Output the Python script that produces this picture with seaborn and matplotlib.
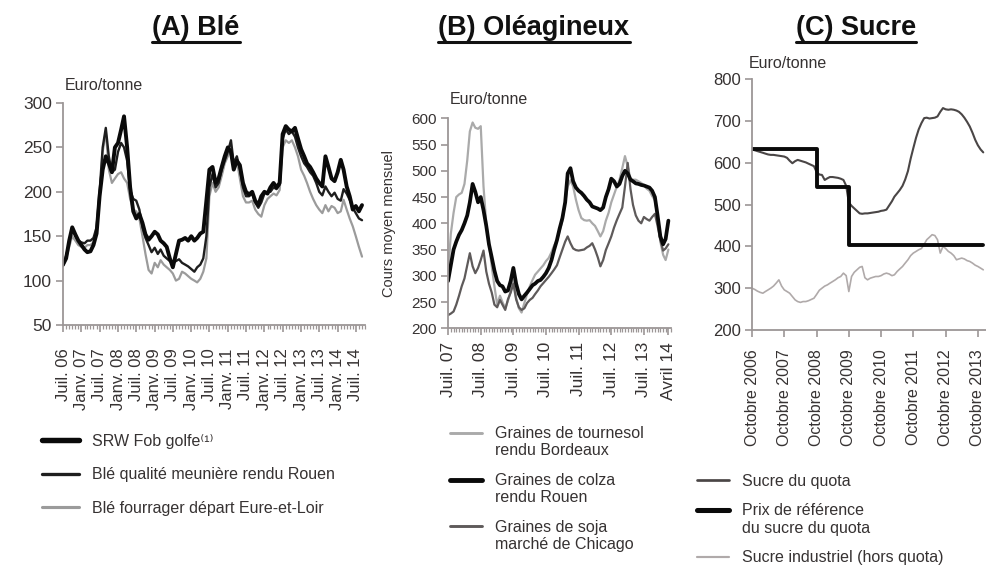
import pandas as pd
import seaborn as sns
import matplotlib.pyplot as plt
import matplotlib.dates as mdates
from matplotlib.ticker import FixedLocator, FixedFormatter
from matplotlib.lines import Line2D
from matplotlib.legend_handler import HandlerLine2D

# ---- (A) Blé : monthly prices, Jul 2006 -> Sep 2014 (euro/tonne)
ble_start = "2006-07-01"
srw_fob = [118, 125, 145, 160, 152, 145, 140, 135, 132, 133, 140, 153,
           195, 225, 240, 232, 222, 250, 255, 270, 285, 250, 205, 178,
           170, 175, 165, 152, 146, 150, 155, 152, 145, 142, 138, 125,
           115, 130, 145, 146, 148, 145, 150, 145, 148, 153, 155, 190,
           225, 228, 210, 215, 228, 240, 250, 245, 225, 235, 230, 210,
           200, 197, 200, 190, 185, 195, 200, 198, 205, 210, 205, 210,
           265, 274, 270, 268, 272, 260, 248, 240, 232, 228, 222, 215,
           210, 206, 240, 228, 215, 212, 222, 236, 225, 206, 195, 180,
           184, 178, 185]
ble_meuniere = [117, 128, 142, 158, 150, 145, 143, 142, 145, 145, 148, 160,
                200, 250, 272, 240, 222, 225, 245, 255, 250, 235, 202, 192,
                190, 180, 160, 148, 140, 132, 137, 130, 135, 128, 125, 122,
                120, 122, 124, 120, 118, 116, 113, 110, 115, 118, 125, 150,
                205, 220, 205, 210, 225, 235, 245, 258, 232, 240, 225, 205,
                195, 195, 198, 188, 182, 188, 198, 200, 200, 205, 203, 208,
                260, 270, 265, 268, 262, 250, 240, 232, 228, 222, 218, 210,
                200, 196, 206, 200, 195, 199, 192, 190, 203, 198, 191, 182,
                176, 170, 168]
ble_fourrager = [116, 125, 138, 150, 145, 140, 138, 137, 140, 140, 143, 155,
                 195, 245, 268, 225, 210, 215, 220, 222, 215, 210, 192, 180,
                 178, 170, 150, 130, 112, 108, 120, 115, 123, 118, 115, 112,
                 108, 100, 102, 110, 108, 105, 102, 100, 98, 102, 110, 125,
                 195, 210, 200, 205, 218, 232, 240, 248, 225, 235, 215, 195,
                 188, 188, 190, 180, 175, 172, 185, 192, 195, 198, 196, 202,
                 250, 258, 255, 258, 250, 240, 225, 218, 210, 200, 192, 185,
                 180, 176, 185, 178, 184, 182, 176, 178, 191, 180, 170, 161,
                 150, 138, 127]
ble_labels = ["SRW Fob golfe⁽¹⁾", "Blé qualité meunière rendu Rouen",
              "Blé fourrager départ Eure-et-Loir"]
ble_ticks = ["Juil. 06", "Janv. 07", "Juil. 07", "Janv. 08", "Juil. 08",
             "Janv. 09", "Juil. 09", "Janv. 10", "Juil. 10", "Janv. 11",
             "Juil. 11", "Janv. 12", "Juil. 12", "Janv. 13", "Juil. 13",
             "Janv. 14", "Juil. 14"]

# ---- (B) Oléagineux : monthly prices, Jul 2007 -> Apr 2014
ole_start = "2007-07-01"
tournesol = [300, 380, 420, 450, 455, 458, 475, 520, 575, 592,
             582, 580, 585, 470, 400, 360, 318, 280, 245, 262,
             250, 238, 252, 270, 292, 258, 238, 230, 248, 265,
             280, 292, 302, 308, 314, 320, 328, 334, 345, 358,
             368, 385, 405, 440, 470, 482, 470, 445, 425, 410,
             406, 405, 406, 400, 395, 385, 375, 385, 405, 420,
             440, 455, 470, 483, 505, 528, 508, 485, 483, 483,
             480, 477, 472, 466, 462, 452, 444, 410, 365, 340,
             330, 350]
colza = [290, 320, 350, 365, 378, 387, 400, 415, 440, 475,
         460, 440, 450, 425, 395, 360, 335, 310, 290, 282,
         280, 270, 272, 290, 315, 285, 265, 255, 262, 268,
         275, 282, 285, 290, 292, 298, 305, 315, 330, 350,
         368, 390, 410, 440, 495, 505, 480, 468, 462, 458,
         452, 445, 440, 432, 430, 428, 425, 430, 450, 465,
         485, 480, 470, 475, 490, 500, 495, 483, 480, 476,
         475, 473, 472, 470, 468, 462, 450, 415, 375, 360,
         370, 405]
soja = [225, 228, 232, 245, 262, 280, 295, 320, 343, 318,
        305, 315, 330, 348, 308, 285, 268, 245, 240, 254,
        245, 235, 255, 268, 285, 255, 240, 235, 238, 248,
        254, 258, 265, 272, 280, 286, 292, 298, 305, 312,
        320, 335, 350, 365, 375, 362, 352, 349, 348, 349,
        350, 354, 357, 362, 350, 335, 318, 330, 349, 362,
        375, 392, 406, 418, 430, 470, 515, 465, 435, 415,
        405, 400, 412, 408, 405, 412, 418, 395, 368, 348,
        352, 360]
ole_labels = ["Graines de tournesol\nrendu Bordeaux", "Graines de colza\nrendu Rouen",
              "Graines de soja\nmarché de Chicago"]
ole_ticks = ["Juil. 07", "Juil. 08", "Juil. 09", "Juil. 10", "Juil. 11",
             "Juil. 12", "Juil. 13", "Avril 14"]

# ---- (C) Sucre : monthly prices, Oct 2006 -> Dec 2013
sucre_start = "2006-10-01"
sucre_quota = [632, 630, 628, 626, 624, 622, 620, 619, 619, 618,
               617, 616, 615, 612, 605, 599, 604, 607, 605, 603,
               601, 598, 595, 592, 578, 572, 571, 559, 563, 566,
               566, 565, 564, 562, 559, 545, 505, 497, 491, 485,
               479, 478, 479, 479, 480, 481, 482, 483, 485, 486,
               488, 498, 508, 519, 527, 535, 545, 560, 580, 610,
               635, 660, 680, 695, 707, 708, 706, 707, 708, 711,
               722, 731, 728, 727, 728, 727, 725, 722, 716, 708,
               698, 687, 672, 655, 642, 632, 625]
sucre_industriel = [300, 297, 293, 290, 288, 292, 296, 300, 305, 312,
                    320, 305, 296, 292, 288, 280, 272, 268, 266, 268,
                    268, 270, 273, 276, 285, 295, 300, 305, 308, 312,
                    316, 320, 325, 328, 336, 330, 292, 328, 338, 344,
                    350, 352, 325, 320, 324, 326, 328, 328, 330, 334,
                    336, 334, 330, 332, 340, 346, 352, 360, 368, 378,
                    384, 388, 392, 395, 405, 416, 422, 428, 426, 416,
                    384, 400, 395, 388, 384, 378, 368, 370, 372, 370,
                    366, 364, 360, 355, 352, 348, 344]
ref_dates = ["2006-10-01", "2008-10-01", "2009-10-01"]
ref_prix = [631.9, 541.5, 404.4]
sucre_labels = ["Sucre du quota", "Prix de référence\ndu sucre du quota",
                "Sucre industriel (hors quota)"]
sucre_ticks = ["Octobre 2006", "Octobre 2007", "Octobre 2008", "Octobre 2009",
               "Octobre 2010", "Octobre 2011", "Octobre 2012", "Octobre 2013"]

AXIS_GREY = "#9c9696"
TEXT = "#363232"

sns.set_theme(style="ticks")
plt.rcParams["font.family"] = ["Liberation Sans", "DejaVu Sans"]

fig = plt.figure(figsize=(9.86, 5.66), dpi=100)
ax_a = fig.add_axes([0.0639, 0.4258, 0.3063, 0.3922])
ax_b = fig.add_axes([0.4544, 0.4200, 0.2262, 0.3710])
ax_c = fig.add_axes([0.7627, 0.4170, 0.2373, 0.4430])

# data frames
ble = pd.DataFrame({"date": pd.date_range(ble_start, periods=len(srw_fob), freq="MS"),
                    "srw": srw_fob, "meun": ble_meuniere, "four": ble_fourrager})
ole = pd.DataFrame({"date": pd.date_range(ole_start, periods=len(colza), freq="MS"),
                    "tour": tournesol, "colza": colza, "soja": soja})
sucre = pd.DataFrame({"date": pd.date_range(sucre_start, periods=len(sucre_quota), freq="MS"),
                      "quota": sucre_quota, "indus": sucre_industriel})
ref = pd.Series(ref_prix, index=pd.to_datetime(ref_dates))
sucre["ref"] = ref.reindex(sucre["date"], method="ffill").to_numpy()

# (A)
sns.lineplot(data=ble, x="date", y="four", ax=ax_a, color="#9b9b9b", lw=1.6, label=ble_labels[2])
sns.lineplot(data=ble, x="date", y="meun", ax=ax_a, color="#1e1e1e", lw=1.7, label=ble_labels[1])
sns.lineplot(data=ble, x="date", y="srw", ax=ax_a, color="#0a0a0a", lw=2.8, label=ble_labels[0])

# (B)
sns.lineplot(data=ole, x="date", y="tour", ax=ax_b, color="#aaaaaa", lw=1.6, label=ole_labels[0])
sns.lineplot(data=ole, x="date", y="soja", ax=ax_b, color="#5e5a5a", lw=1.6, label=ole_labels[2])
sns.lineplot(data=ole, x="date", y="colza", ax=ax_b, color="#0a0a0a", lw=2.7, label=ole_labels[1])

# (C)
sns.lineplot(data=sucre, x="date", y="indus", ax=ax_c, color="#b0aaaa", lw=1.2, label=sucre_labels[2])
sns.lineplot(data=sucre, x="date", y="quota", ax=ax_c, color="#4a4646", lw=1.5, label=sucre_labels[0])
sns.lineplot(data=sucre, x="date", y="ref", ax=ax_c, color="#0a0a0a", lw=2.8,
             drawstyle="steps-post", label=sucre_labels[1])


def style_axis(ax, ylim, ystep, ysize):
    sns.despine(ax=ax)
    for s in ("left", "bottom"):
        ax.spines[s].set_color(AXIS_GREY)
        ax.spines[s].set_linewidth(1.3)
    ax.set_ylim(*ylim)
    ax.set_yticks(range(ylim[0], ylim[1] + 1, ystep))
    ax.tick_params(axis="y", colors=AXIS_GREY, labelcolor=TEXT, labelsize=ysize,
                   length=5, width=1.2, pad=3)
    ax.set_xlabel("")
    ax.set_ylabel("")


def date_ticks(ax, dates, labels, size, pad, minor=True):
    ax.xaxis.set_major_locator(FixedLocator(mdates.date2num(dates)))
    ax.xaxis.set_major_formatter(FixedFormatter(labels))
    if minor:
        ax.xaxis.set_minor_locator(mdates.MonthLocator())
        ax.tick_params(axis="x", which="minor", length=3, width=0.9, colors=AXIS_GREY)
    ax.tick_params(axis="x", which="major", rotation=90, labelsize=size, length=5,
                   width=1.2, colors=AXIS_GREY, labelcolor=TEXT, pad=pad)


style_axis(ax_a, (50, 300), 50, 12.5)
ax_a.set_xlim(pd.Timestamp(ble_start), pd.Timestamp("2014-10-01"))
date_ticks(ax_a, pd.date_range(ble_start, periods=len(ble_ticks), freq="6MS"), ble_ticks, 12, 12)

style_axis(ax_b, (200, 600), 50, 11)
ax_b.set_xlim(pd.Timestamp(ole_start), pd.Timestamp("2014-05-01"))
ole_tick_dates = list(pd.date_range(ole_start, periods=len(ole_ticks) - 1, freq="12MS")) + [pd.Timestamp("2014-04-01")]
date_ticks(ax_b, ole_tick_dates, ole_ticks, 12.5, 5)
ax_b.set_ylabel("Cours moyen mensuel", fontsize=10.5, color=TEXT, labelpad=11)

style_axis(ax_c, (200, 800), 100, 12)
ax_c.set_xlim(pd.Timestamp(sucre_start), pd.Timestamp("2014-01-01"))
date_ticks(ax_c, pd.date_range(sucre_start, periods=len(sucre_ticks), freq="12MS"),
           sucre_ticks, 11.5, 9, minor=False)

# unit labels
fig.text(65 / 986, 1 - 85 / 566, "Euro/tonne", fontsize=11.5, color=TEXT, va="center")
fig.text(450 / 986, 1 - 100 / 566, "Euro/tonne", fontsize=11.5, color=TEXT, va="center")
fig.text(749 / 986, 1 - 63 / 566, "Euro/tonne", fontsize=11.5, color=TEXT, va="center")


class FirstLineHandler(HandlerLine2D):
    """Legend line drawn level with the first line of a two-line label."""

    def __init__(self, shift, **kw):
        super().__init__(**kw)
        self.shift = shift

    def create_artists(self, legend, orig_handle, xdescent, ydescent, width, height,
                       fontsize, trans):
        artists = super().create_artists(legend, orig_handle, xdescent, ydescent, width,
                                         height, fontsize, trans)
        for a in artists:
            a.set_ydata([y + self.shift for y in a.get_ydata()])
        return artists


def place_legend(ax, order, x, y, handlelength, labelspacing, lw_scale):
    h, l = ax.get_legend_handles_labels()
    lookup = dict(zip(l, h))
    handles = [lookup[k] for k in order]
    hmap = {lookup[k]: FirstLineHandler(7.0) for k in order if "\n" in k}
    leg = ax.legend(handles, order, loc="upper left", handler_map=hmap,
                    bbox_to_anchor=(x / 986, 1 - y / 566), bbox_transform=fig.transFigure,
                    frameon=False, fontsize=11.5, handlelength=handlelength,
                    handletextpad=0.8, labelspacing=labelspacing, borderpad=0,
                    borderaxespad=0, labelcolor=TEXT)
    for line in leg.get_lines():
        line.set_linewidth(line.get_linewidth() * lw_scale)
    return leg


place_legend(ax_a, ble_labels, 42, 434, 2.3, 1.15, 1.4)
place_legend(ax_b, ole_labels, 450, 426, 2.0, 0.9, 1.3)
place_legend(ax_c, sucre_labels, 697, 474, 2.0, 0.9, 1.3)

# titles, bold + underlined
titles = [("(A) Blé", 196), ("(B) Oléagineux", 534), ("(C) Sucre", 856)]
title_texts = []
for txt, xc in titles:
    t = fig.text(xc / 986, 1 - 28 / 566, txt, ha="center", va="center", fontsize=19.5,
                 fontweight="bold", color="#111111")
    title_texts.append(t)

fig.canvas.draw()
renderer = fig.canvas.get_renderer()
W, H = fig.bbox.width, fig.bbox.height
for t in title_texts:
    bb = t.get_window_extent(renderer)
    yl = (bb.y0 - 1) / H
    fig.add_artist(Line2D([bb.x0 / W, bb.x1 / W], [yl, yl], transform=fig.transFigure,
                          color="#111111", lw=2.2))

fig.savefig("out.png", dpi=100)
